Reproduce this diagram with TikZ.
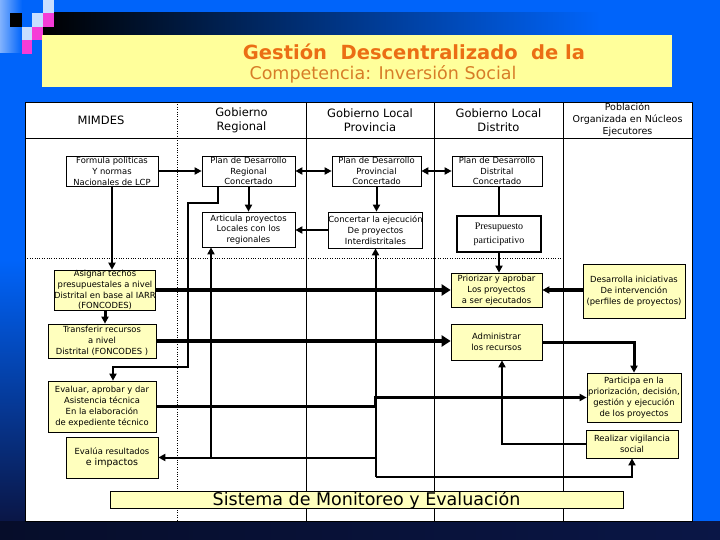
\documentclass[tikz,border=0pt]{standalone}
\usepackage{fontspec}
\setmainfont{DejaVu Sans}
\newfontfamily\presfont{Liberation Serif}
\usetikzlibrary{arrows.meta}

\definecolor{slideblue}{RGB}{0,100,250}
\definecolor{deepnavy}{RGB}{10,22,70}
\definecolor{barnavy}{RGB}{0,25,75}
\definecolor{paleblue}{RGB}{215,230,255}
\definecolor{sqblue}{RGB}{200,222,255}
\definecolor{sqpink}{RGB}{245,60,215}
\definecolor{titleyellow}{RGB}{255,255,155}
\definecolor{boxyellow}{RGB}{255,255,190}
\definecolor{titleorange}{RGB}{235,110,20}
\definecolor{suborange}{RGB}{215,125,40}

\begin{document}
\begin{tikzpicture}[x=1pt, y=-1pt, >={Triangle[length=7pt,width=7pt]},
  box/.style={draw, line width=0.7pt, fill=white, align=center, inner sep=0pt,
    font=\fontsize{8.4}{10.8}\selectfont},
  ybox/.style={box, fill=boxyellow},
  head/.style={align=center, font=\fontsize{11.5}{14}\selectfont},
  conn/.style={line width=2pt, ->},
  heavy/.style={line width=4.5pt, -{Triangle[length=9pt,width=11pt]}},
  lane/.style={line width=0.8pt}]
\useasboundingbox (0,0) rectangle (720,540);
\fill[slideblue] (0,0) rectangle (720,540);
\shade[top color=slideblue, bottom color=deepnavy] (0,260) rectangle (25,521);
\shade[left color=deepnavy!60!black, right color=deepnavy] (0,521) rectangle (720,540);
\shade[left color=paleblue!60!slideblue, middle color=paleblue, right color=slideblue] (0,0) rectangle (22,53);
\shade[left color=black, middle color=barnavy, right color=slideblue] (43,13) rectangle (600,35);
\fill[black] (10,13) rectangle (22,27);
\fill[sqblue] (43,0) rectangle (54,13);
\fill[sqblue] (32,13) rectangle (43,27);
\fill[sqpink] (43,13) rectangle (54,27);
\fill[sqblue] (22,27) rectangle (32,40);
\fill[sqpink] (32,27) rectangle (43,40);
\fill[sqpink] (22,40) rectangle (32,54);
\fill[titleyellow] (42,35) rectangle (672,87);
\node[text=titleorange, font=\fontsize{19.5}{21}\bfseries] (title) at (414,52)
  {Gestión\ \ Descentralizado\ \ de la};
\node[text=suborange, font=\fontsize{17.5}{19}\selectfont] (subtitle) at (383,74)
  {Competencia: Inversión Social};

\draw[fill=white, line width=0.6pt] (25,102) rectangle (692,521);
\draw[lane] (25,138) -- (692,138);
\foreach \x in {306,434,563}
  \draw[lane] (\x,102) -- (\x,521);
\draw[dotted] (177,102) -- (177,521);
\draw[dotted] (25,258) -- (563,258);

\node[head] (mimdes) at (101,120) {MIMDES};
\node[head] (regional) at (241.5,120) {Gobierno\\Regional};
\node[head] (provincia) at (370,120) {Gobierno Local\\Provincia};
\node[head] (distrito) at (498.5,120) {Gobierno Local\\Distrito};
\node[head, font=\fontsize{9.5}{12}\selectfont] (poblacion) at (627.5,120)
  {Población\\Organizada en Núcleos\\Ejecutores};

\node[box, minimum width=92, minimum height=30] (formula) at (112,171)
  {Formula políticas\\Y normas\\Nacionales de LCP};
\node[box, minimum width=93, minimum height=30] (planreg) at (248.5,171)
  {Plan de Desarrollo\\Regional\\Concertado};
\node[box, minimum width=89, minimum height=30] (planprov) at (376.5,171)
  {Plan de Desarrollo\\Provincial\\Concertado};
\node[box, minimum width=90, minimum height=30] (plandist) at (497,171)
  {Plan de Desarrollo\\Distrital\\Concertado};
\node[box, minimum width=93, minimum height=35] (articula) at (248.5,229.5)
  {Articula proyectos\\Locales con los\\regionales};
\node[box, minimum width=91, minimum height=36] (concertar) at (375.5,230)
  {Concertar la ejecución\\De proyectos\\Interdistritales};
\node[box, line width=2.2pt, minimum width=84, minimum height=36,
  font=\presfont\fontsize{10}{14}\selectfont] (presup) at (499,234)
  {Presupuesto\\participativo};
\node[ybox, minimum width=100, minimum height=34] (asignar) at (105,290)
  {Asignar techos\\presupuestales a nivel\\Distrital en base al IARR\\(FONCODES)};
\node[ybox, minimum width=108, minimum height=34] (transferir) at (102,341)
  {Transferir recursos\\a nivel\\Distrital (FONCODES )};
\node[ybox, minimum width=91, minimum height=34] (priorizar) at (496.5,290)
  {Priorizar y aprobar\\Los proyectos\\a ser ejecutados};
\node[ybox, minimum width=102, minimum height=54] (desarrolla) at (634,291)
  {Desarrolla iniciativas\\De intervención\\(perfiles de proyectos)};
\node[ybox, minimum width=91, minimum height=36] (administrar) at (496.5,342)
  {Administrar\\los recursos};
\node[ybox, minimum width=108, minimum height=51] (evaluar) at (102,406.5)
  {Evaluar, aprobar y dar\\Asistencia técnica\\En la elaboración\\de expediente técnico};
\node[ybox, minimum width=92, minimum height=41] (evalua) at (112,457.5)
  {Evalúa resultados\\{\fontsize{9.5}{12}\selectfont e impactos}};
\node[ybox, minimum width=94, minimum height=49] (participa) at (634,397.5)
  {Participa en la\\priorización, decisión,\\gestión y ejecución\\de los proyectos};
\node[ybox, minimum width=92, minimum height=28] (realizar) at (632,444)
  {Realizar vigilancia\\social};
\node[ybox, minimum width=513, minimum height=16, font=\fontsize{17.5}{18}\selectfont]
  (sistema) at (366.5,500) {Sistema de Monitoreo y Evaluación};

\draw[conn, line width=2.5pt] (formula) -- (planreg);
\draw[conn, <->] (planreg) -- (planprov);
\draw[conn, <->] (planprov) -- (plandist);
\draw[conn] (planreg) -- (articula);
\draw[conn] (planprov.south) -- (planprov.south |- concertar.north);
\draw[conn] (concertar.west) -- (concertar.west -| articula.east);
\draw[line width=2pt] (presup.north |- plandist.south) -- (presup.north);
\draw[conn] (presup.south) -- (presup.south |- priorizar.north);
\draw[conn] (formula.south) -- (formula.south |- asignar.north);
\draw[conn, line width=3pt] (asignar.south) -- (asignar.south |- transferir.north);
\draw[heavy] (asignar.east) -- (asignar.east -| priorizar.west);
\draw[heavy] (transferir.east) -- (transferir.east -| administrar.west);
\draw[conn, line width=4pt] (desarrolla.west |- priorizar) -- (priorizar.east);
\coordinate (regout) at ([xshift=-31pt]planreg.south);
\coordinate (bendA) at (188,203);
\coordinate (bendB) at (188,367);
\coordinate (evalin) at ([xshift=11pt]evaluar.north);
\draw[conn] (regout) |- (bendA) -- (bendB) -| (evalin);
\coordinate (artin) at ([xshift=-37.5pt]articula.south);
\coordinate (hubbot) at (375.5,477);
\draw[conn] (hubbot) -- (concertar.south);
\draw[conn] (hubbot) -| (realizar.south);
\draw[conn, line width=2.5pt] (evaluar.east) -- (evaluar.east -| hubbot) |- (participa.west);
\draw[conn] (evalua.east -| hubbot) -- (evalua.east);
\draw[conn] (artin |- evalua.east) -- (artin);
\draw[conn, line width=3pt] (administrar.east) -| (participa.north);
\coordinate (admin) at ([xshift=5.5pt]administrar.south);
\draw[conn] (realizar.west) -| (admin);
\end{tikzpicture}
\end{document}
